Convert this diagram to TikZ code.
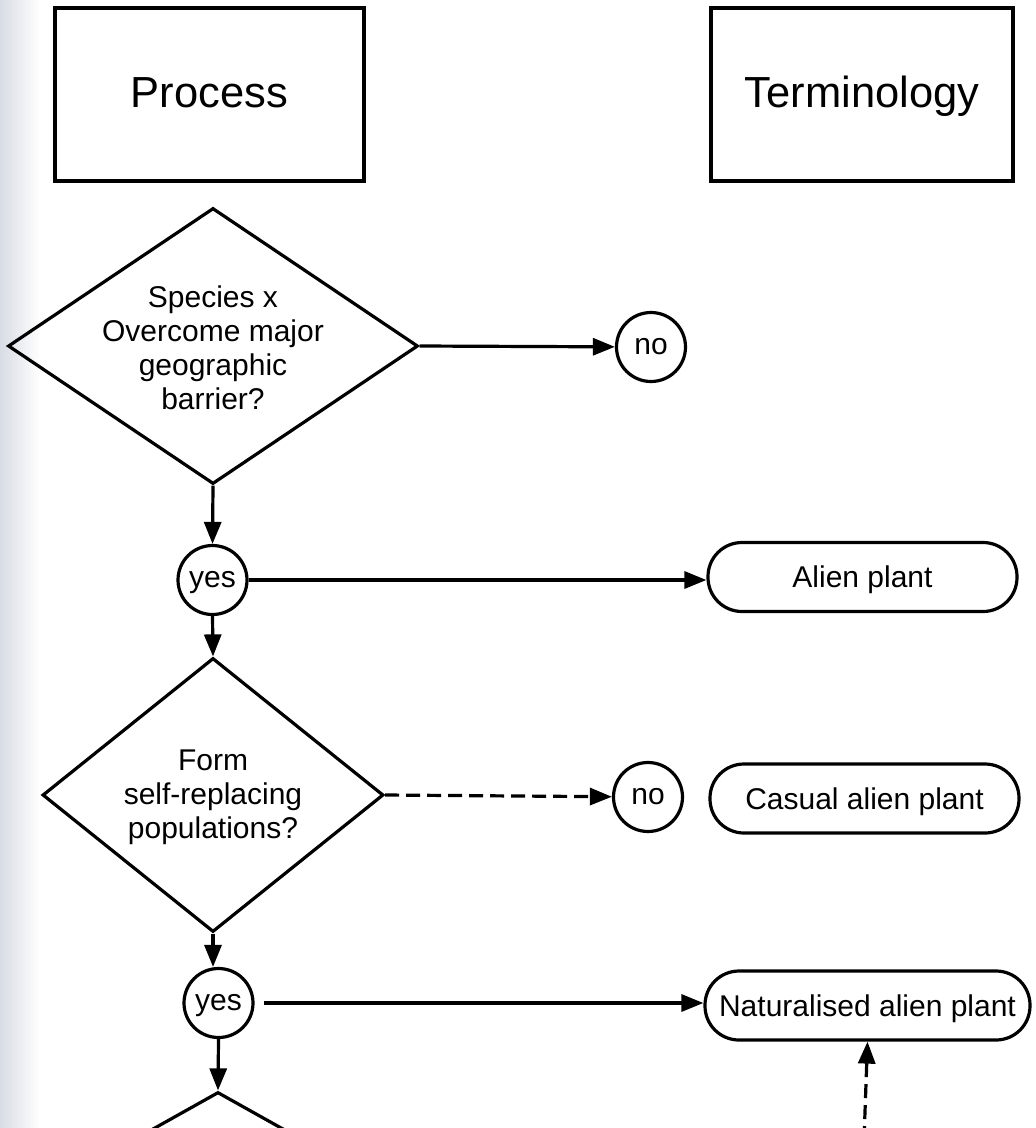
\documentclass[tikz,border=0pt]{standalone}
\usepackage{fontspec}
\setmainfont{Liberation Sans}
\usetikzlibrary{shapes.geometric,arrows.meta}
\definecolor{edgetint}{RGB}{216,220,228}
\begin{document}
\begin{tikzpicture}[x=1pt,y=-1pt,
  lw/.style={line width=3.2pt},
  arr/.style={lw,-{Triangle[length=22pt,width=17pt]}},
  dasharr/.style={arr,dash pattern=on 14pt off 7pt},
  headbox/.style={draw,lw,rectangle,minimum height=173pt,inner sep=0pt,text height=31pt,text depth=5pt,font=\fontsize{43.5}{50}\selectfont},
  dec/.style={diamond,draw,lw,inner sep=0pt},
  dtext/.style={align=center,inner sep=0pt,font=\fontsize{30}{34}\selectfont},
  yn/.style={circle,draw,lw,minimum size=69pt,inner sep=0pt,text height=20pt,text depth=4.4pt,font=\fontsize{30}{34}\selectfont},
  termbox/.style={rectangle,rounded corners=34pt,draw,lw,minimum height=69pt,inner sep=0pt,text height=21.5pt,text depth=0pt,font=\fontsize{30}{34}\selectfont}
]
\clip (0,0) rectangle (1036,1128);
\fill[white] (0,0) rectangle (1036,1128);
\shade[left color=edgetint,right color=white] (0,0) rectangle (40,1128);

% headers
\node[headbox,minimum width=309pt] (proc) at (209.5,94.5) {Process};
\node[headbox,minimum width=302pt] (termh) at (862,94.5) {Terminology};

% decision 1
\node[dec,minimum width=410pt,minimum height=276pt] (d1) at (213,346) {};
\node[dtext] (d1t) at (213,348) {Species x\\Overcome major\\geographic\\barrier?};
\node[yn] (no1) at (651,347) {no};
\node[yn] (yes1) at (212.5,580) {yes};
\node[termbox,minimum width=309pt] (alien) at (862.5,577) {Alien plant};

% decision 2
\node[dec,minimum width=341pt,minimum height=274pt] (d2) at (213,795) {};
\node[dtext] (d2t) at (213,797) {Form\\self-replacing\\populations?};
\node[yn] (no2) at (648,797) {no};
\node[termbox,minimum width=309pt] (casual) at (864.5,798.5) {Casual alien plant};
\node[yn] (yes2) at (218.5,1003) {yes};
\node[termbox,minimum width=325pt] (nat) at (867.5,1005.5) {Naturalised alien plant};

% decision 3 (cut off)
\node[dec,minimum width=410pt,minimum height=230pt] (d3) at (218,1207) {};
\coordinate (dashsrc) at (864,1140);

% connectors
\draw[arr] (d1.east) -- (no1);
\draw[arr] (d1.south) -- (yes1.north);
\draw[arr] (yes1.east) -- (yes1.east -| alien.west);
\draw[arr] (yes1.south) -- (d2.north);
\draw[dasharr] (d2.east) -- (no2);
\draw[arr] (d2.south) -- (d2.south |- yes2.north);
\draw[arr,shorten <=9pt] (yes2.east) -- (yes2.east -| nat.west);
\draw[arr] (yes2.south) -- (d3.north);
\draw[dasharr] (dashsrc) -- (nat.south);
\end{tikzpicture}
\end{document}
